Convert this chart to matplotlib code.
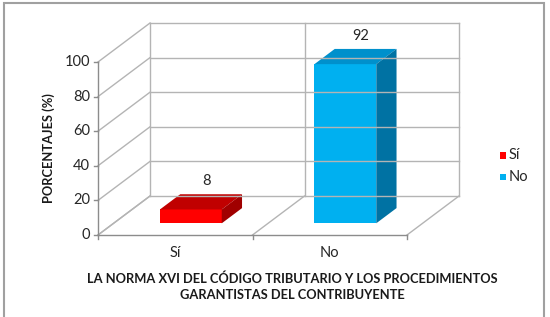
import matplotlib
matplotlib.use("Agg")
import matplotlib.pyplot as plt
from matplotlib.patches import Polygon, Rectangle

categorias = ["Sí", "No"]
porcentajes = [8, 92]
ticks_y = [0, 20, 40, 60, 80, 100]
colores_frente = ["#FF0000", "#00B0F0"]
colores_arriba = ["#C00000", "#0090CC"]
colores_lado = ["#A00000", "#0072A3"]

titulo_x = "LA NORMA XVI DEL CÓDIGO TRIBUTARIO Y LOS PROCEDIMIENTOS\nGARANTISTAS DEL CONTRIBUYENTE"
titulo_y = "PORCENTAJES (%)"

plt.rcParams["font.family"] = ["Lato", "DejaVu Sans"]

fig = plt.figure(figsize=(5.5, 3.17), dpi=100)
ax = fig.add_axes([0, 0, 1, 1])
# pixel-aligned limits: front plane x 0..2 -> px 98..407, y 0..100 -> px 235..62
ax.set_xlim(-98 / 154.5, (550 - 98) / 154.5)
ax.set_ylim((235 - 317) / 1.73, 235 / 1.73)
ax.axis("off")

# depth offset of the 3D box in data units
dx, dy = 52 / 154.5, 39 / 1.73
n = len(categorias)
gris = "#B4B4B4"
eje = "#8C8C8C"
txt = "#262626"

# back wall and side wall gridlines
for v in ticks_y:
    ax.plot([dx, n + dx], [v + dy, v + dy], color=gris, lw=1)
    ax.plot([0, dx], [v, v + dy], color=gris, lw=1)
for c in range(n + 1):
    ax.plot([c + dx, c + dx], [dy, 100 + dy], color=gris, lw=1)
    ax.plot([c, c + dx], [0, dy], color=gris, lw=1)

# front axes
ax.plot([0, 0], [0, 100], color=eje, lw=1)
ax.plot([0, n], [0, 0], color=eje, lw=1)
for v in ticks_y:
    ax.plot([-0.025, 0], [v, v], color=eje, lw=1)
    ax.text(-0.05, v, str(v), ha="right", va="center", fontsize=10.5, color=txt)
for c in range(n + 1):
    ax.plot([c, c], [0, -2.5], color=eje, lw=1)

# bars
f0, f1 = 0.3, 0.69
w = 0.2
for i, (cat, val) in enumerate(zip(categorias, porcentajes)):
    c = i + 0.5
    x0, x1 = c - w + f0 * dx, c + w + f0 * dx
    y0 = f0 * dy
    ddx, ddy = (f1 - f0) * dx, (f1 - f0) * dy
    ax.add_patch(Rectangle((x0, y0), x1 - x0, val, facecolor=colores_frente[i], edgecolor="none"))
    ax.add_patch(Polygon([(x0, y0 + val), (x1, y0 + val),
                          (x1 + ddx, y0 + val + ddy), (x0 + ddx, y0 + val + ddy)],
                         closed=True, facecolor=colores_arriba[i], edgecolor="none"))
    ax.add_patch(Polygon([(x1, y0), (x1 + ddx, y0 + ddy),
                          (x1 + ddx, y0 + val + ddy), (x1, y0 + val)],
                         closed=True, facecolor=colores_lado[i], edgecolor="none"))
    ax.text(c + 0.6 * dx, val + f1 * dy + 3.5, str(val), ha="center", va="bottom",
            fontsize=10.5, color=txt)
    ax.text(c, -6.5, cat, ha="center", va="top", fontsize=10.5, color=txt)

ax.text(1.26, -21.5, titulo_x, ha="center", va="top", fontsize=9.3, fontweight="bold",
        color="#1a1a1a", linespacing=1.4)
ax.text(-0.32, 50, titulo_y, ha="center", va="center", rotation=90, fontsize=9.3,
        fontweight="bold", color="#1a1a1a")

# legend
for i, cat in enumerate(categorias):
    ly = 46 - i * 12.5
    ax.add_patch(Rectangle((2.60, ly - 1.8), 0.04, 3.6, facecolor=colores_frente[i], edgecolor="none"))
    ax.text(2.66, ly, cat, ha="left", va="center", fontsize=10.5, color=txt)

# chart area border
fig.patches.append(Rectangle((4 / 550, -0.01), 540 / 550, 1 - 3 / 317 + 0.01,
                             transform=fig.transFigure, fill=False,
                             edgecolor="#A0A0A0", lw=1.5))

fig.savefig("out.png", dpi=100, facecolor="white")
